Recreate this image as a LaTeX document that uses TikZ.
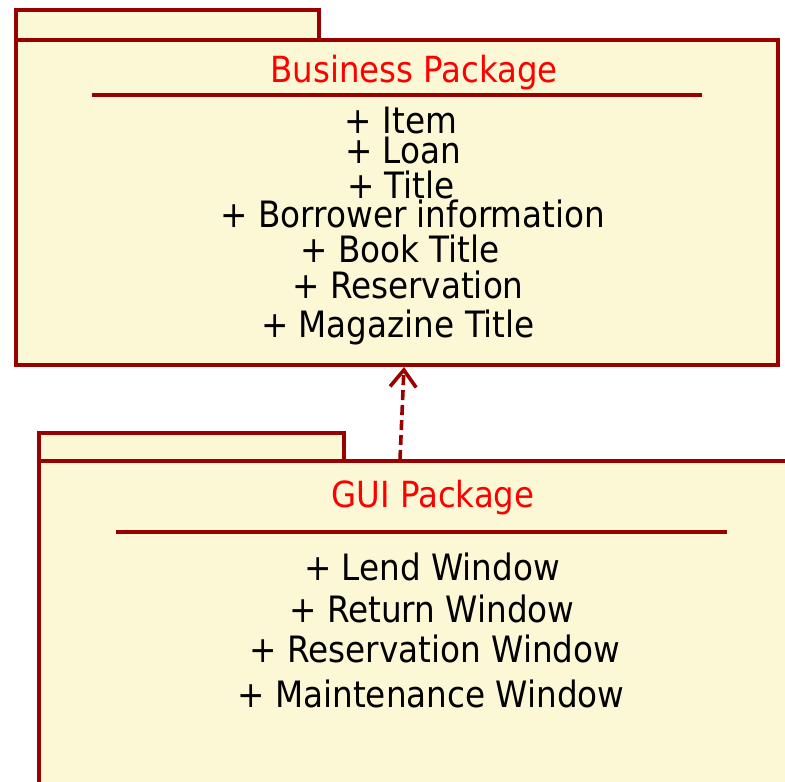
\documentclass[tikz,border=0pt]{standalone}
\usepackage{fontspec}
\setmainfont{DejaVu Sans Condensed}
\usetikzlibrary{arrows.meta}
\definecolor{pkgfill}{RGB}{252,248,214}
\definecolor{pkgline}{RGB}{153,0,0}
\definecolor{pkgtitle}{RGB}{255,0,0}
\tikzset{
  pkgbox/.style={draw=pkgline, fill=pkgfill, line width=3.8pt},
  sepline/.style={draw=pkgline, line width=3.8pt},
  pkgname/.style={text=pkgtitle, font=\fontsize{36}{40}\selectfont, anchor=base, inner sep=0pt},
  member/.style={text=black, font=\fontsize{36.3}{40}\selectfont, anchor=base, inner sep=0pt},
  dep/.style={draw=pkgline, line width=3.6pt, dash pattern=on 10pt off 5pt,
    -{Straight Barb[length=17pt,width=26pt,line width=3.6pt]}}
}
\begin{document}
\begin{tikzpicture}[x=1pt,y=-1pt]
\clip (0,0) rectangle (785,782);
\fill[white] (0,0) rectangle (785,782);
% Business package
\path[pkgbox] (16,10) rectangle (319,40);
\path[pkgbox] (16,40) rectangle (778,365);
\node[pkgname] (bizname) at (414,82) {Business Package};
\path[sepline] (92,95) -- (702,95);
\node[member] (b1) at (401,133) {+ Item};
\node[member] (b2) at (403,163) {+ Loan};
\node[member] (b3) at (401,198) {+ Title};
\node[member] (b4) at (413,227) {+ Borrower information};
\node[member] (b5) at (400,262) {+ Book Title};
\node[member] (b6) at (408,298) {+ Reservation};
\node[member] (b7) at (398,337) {+ Magazine Title};
% GUI package
\path[pkgbox] (39,433) rectangle (344,461);
\path[pkgbox] (39,461) rectangle (800,800);
\node[pkgname] (guiname) at (433,507) {GUI Package};
\path[sepline] (116,532) -- (727,532);
\node[member] (g1) at (432,580) {+ Lend Window};
\node[member] (g2) at (432,622) {+ Return Window};
\node[member] (g3) at (435,662) {+ Reservation Window};
\node[member] (g4) at (431,707) {+ Maintenance Window};
% dependency
\coordinate (guitop) at (400,460);
\coordinate (bizbottom) at (404,367);
\draw[dep] (guitop) -- (bizbottom);
\end{tikzpicture}
\end{document}
